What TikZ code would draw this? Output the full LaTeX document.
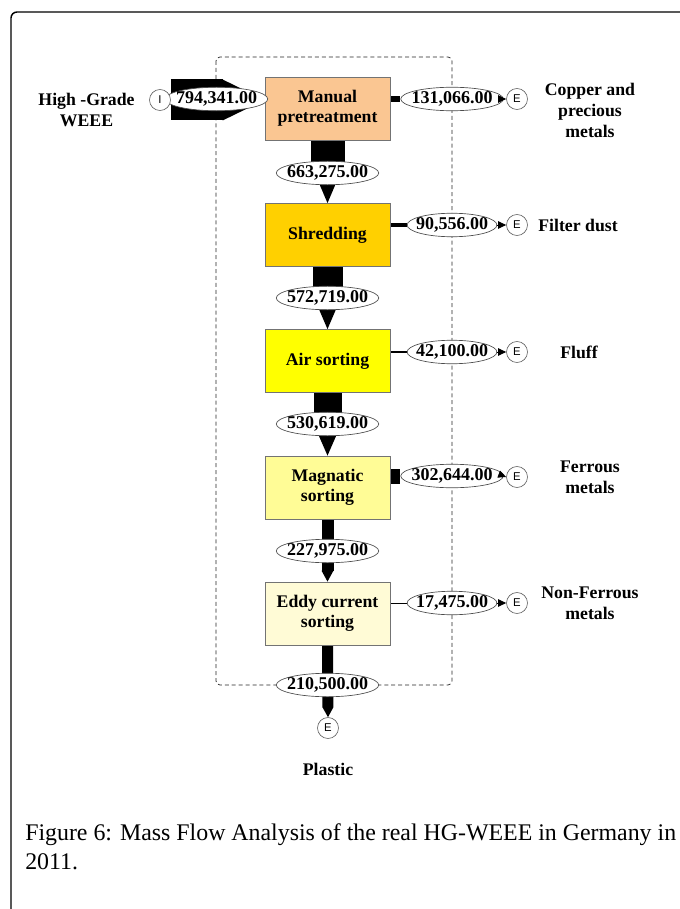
\documentclass[tikz,border=0pt]{standalone}
\usepackage{fontspec}
\setmainfont{Liberation Serif}
\newfontfamily\sansE{Liberation Sans}
\usetikzlibrary{arrows.meta}
\usetikzlibrary{shapes.geometric}
\usetikzlibrary{backgrounds}
\definecolor{peach}{RGB}{250,198,146}
\definecolor{gold}{RGB}{255,208,0}
\definecolor{lemon}{RGB}{255,255,0}
\definecolor{pale}{RGB}{255,252,150}
\definecolor{cream}{RGB}{255,251,214}
\tikzstyle{proc}=[draw=black!55, line width=.6pt, minimum width=93.75pt, minimum height=47.25pt, align=center, inner sep=1pt, font=\bfseries\fontsize{13.3}{15}\selectfont]
\tikzstyle{mass}=[ellipse, draw=black!70, fill=white, line width=.5pt, inner xsep=-3.2pt, inner ysep=.7pt, font=\bfseries\fontsize{13.5}{15}\selectfont]
\tikzstyle{term}=[circle, draw=black!60, fill=white, line width=.5pt, minimum size=15.75pt, inner sep=0pt, font=\sansE\fontsize{8.5}{9}\selectfont]
\tikzstyle{lbl}=[align=center, font=\bfseries\fontsize{13.3}{15.75}\selectfont]

\begin{document}
\begin{tikzpicture}[x=.75pt, y=-.75pt]
    \useasboundingbox (0,0) rectangle (680,909);
    \draw[line width=1.1pt, rounded corners=4.5pt] (11,909) |- (680,12);
    % processes
    \node[proc, fill=peach] (p1) at (327.5,108.5) {Manual\\pretreatment};
    \node[proc, fill=gold] (p2) at (327.5,235) {Shredding};
    \node[proc, fill=lemon] (p3) at (327.5,361) {Air sorting};
    \node[proc, fill=pale] (p4) at (327.5,487.5) {Magnatic\\sorting};
    \node[proc, fill=cream] (p5) at (327.5,613.5) {Eddy current\\sorting};
    % masses
    \node[mass] (m0) at (216.5,99) {794,341.00};
    \node[mass] (m1) at (327.5,173) {663,275.00};
    \node[mass] (m2) at (452,99) {131,066.00};
    \node[mass] (m3) at (327.5,298) {572,719.00};
    \node[mass] (m4) at (452,225) {90,556.00};
    \node[mass] (m5) at (327.5,424) {530,619.00};
    \node[mass] (m6) at (452,352) {42,100.00};
    \node[mass] (m7) at (327.5,551) {227,975.00};
    \node[mass] (m8) at (452,476) {302,644.00};
    \node[mass] (m9) at (327.5,685) {210,500.00};
    \node[mass] (m10) at (452,603) {17,475.00};
    % import / export
    \node[term] (i1) at (160,100) {I};
    \node[term] (e1) at (517,99) {E};
    \node[term] (e2) at (517,225) {E};
    \node[term] (e3) at (517,352) {E};
    \node[term] (e4) at (517,477) {E};
    \node[term] (e5) at (517,603) {E};
    \node[term] (e6) at (328,728) {E};
    % labels
    \node[lbl] (l0) at (86.5,110) {High -Grade\\WEEE};
    \node[lbl] (l1) at (590,110) {Copper and\\precious\\metals};
    \node[lbl] (l2) at (578,225) {Filter dust};
    \node[lbl] (l3) at (579,352) {Fluff};
    \node[lbl] (l4) at (590,477) {Ferrous\\metals};
    \node[lbl] (l5) at (590,603) {Non-Ferrous\\metals};
    \node[lbl] (l6) at (328,769) {Plastic};
    \node[anchor=north west, inner sep=0pt, align=left, font=\fontsize{17.9}{21.75}\selectfont] (cap) at (25,823.5)
      {Figure 6: Mass Flow Analysis of the real HG-WEEE in Germany in\\2011.};
    \begin{scope}[on background layer]
    \draw[dash pattern=on 3pt off 2.2pt, draw=black!85, line width=.55pt, rounded corners=3pt] (216,57) rectangle (452,685);
    \draw[line width=30.75pt, -{Triangle[length=31.5pt, width=30.75pt, line width=0pt]}] (i1.east) -- (i1 -| p1.west);
    \foreach \from/\to/\w/\l in 
      {p1/p2/25.5pt/30pt, p2/p3/22.5pt/26.25pt, p3/p4/21pt/24pt, p4/p5/9pt/8.25pt, p5/e6/8.25pt/7.5pt}
    \draw[line width=\w, -{Triangle[length=\l, width=\w, line width=0pt]}] (\from.south) -- (\to.north);
    \foreach \from/\to/\w in 
      {p1/m2/5.1pt, p2/m4/3.5pt, p3/m6/1.65pt, p4/m8/11.25pt, p5/m10/.7pt}
    \draw[line width=\w] (\to -| \from.east) -- (\to);
    \end{scope}
    \foreach \from/\to in 
      {m2/e1, m4/e2, m6/e3, m8/e4, m10/e5}
    \draw[line width=.7pt, -{Triangle[length=6pt, width=5.5pt]}] (\from.east) -- (\to.west);
    \end{tikzpicture}
\end{document}
